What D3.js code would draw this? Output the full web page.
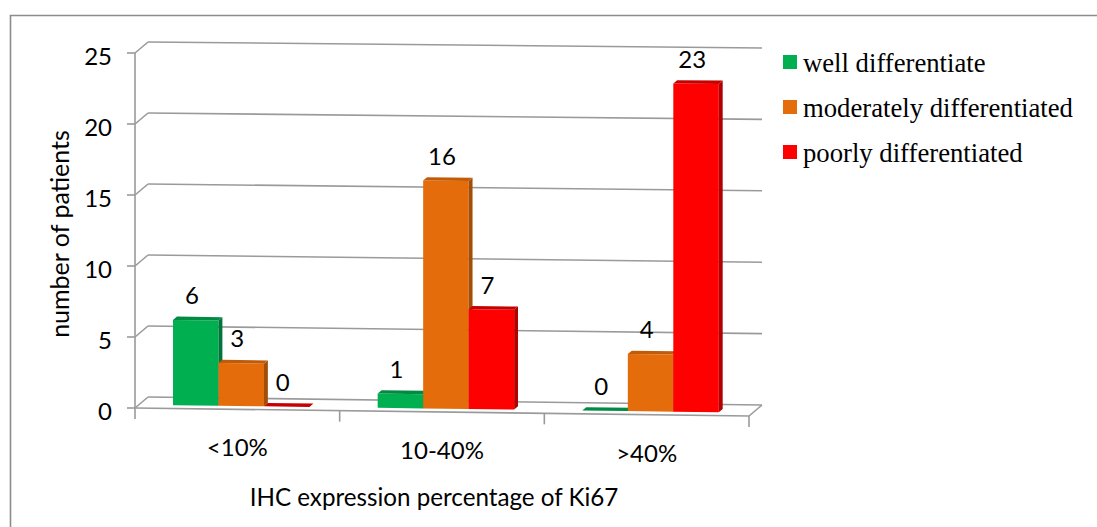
<!DOCTYPE html>
<html>
<head>
<meta charset="utf-8">
<script src="https://cdn.jsdelivr.net/npm/d3@7"></script>
<style>
  html, body { margin: 0; padding: 0; background: #ffffff; }
  svg { display: block; }
</style>
</head>
<body>
<svg id="chart" width="1097" height="527"></svg>
<script>
// Ki67 expression groups and patient counts per differentiation grade
const categories = ["<10%", "10-40%", ">40%"];
const seriesNames = ["well differentiate", "moderately differentiated", "poorly differentiated"];
const wellValues = [6, 1, 0];
const moderateValues = [3, 16, 4];
const poorValues = [0, 7, 23];
const yTicks = [0, 5, 10, 15, 20, 25];

const series = [
  { name: seriesNames[0], values: wellValues,     front: "#00b050", side: "#00753a", top: "#008a42" },
  { name: seriesNames[1], values: moderateValues, front: "#e46c0a", side: "#a34e07", top: "#c25b08" },
  { name: seriesNames[2], values: poorValues,     front: "#ff0000", side: "#b00000", top: "#c80000" }
];

const svg = d3.select("#chart");
const sansFont = "Lato, 'Open Sans', sans-serif";
const serifFont = "'Liberation Serif', 'Times New Roman', serif";

// Front plane of the 3-D plot box
const left = 135, right = 749;
const x = d3.scaleBand().domain(categories).range([left, right]);
const y = d3.scaleLinear().domain([0, 25]).range([408, 53]);

// Depth direction (front -> back wall) and a slight downward tilt to the right
const DX = 13, DY = -11;
function skew(px, v) { return (px - left) / (right - left) * (8 - 2 * v / 25); }
function P(px, v, d) { return [px + d * DX, y(v) + skew(px, v) + d * DY]; }
const line = d3.line();

// Outer chart frame (top and left edges)
svg.append("path").attr("d", "M10.5,527 L10.5,15.5 L1097,15.5")
  .attr("fill", "none").attr("stroke", "#8c8c8c").attr("stroke-width", 1.6);

const grid = svg.append("g").attr("fill", "none").attr("stroke", "#9a9a9a").attr("stroke-width", 1.6);

// Back wall gridlines and side wall diagonals
yTicks.forEach(v => {
  grid.append("path").attr("d", line([P(left, v, 1), P(right, v, 1)]));
  grid.append("path").attr("d", line([P(left, v, 0), P(left, v, 1)]));
  grid.append("path").attr("d", line([[left - 8, y(v)], P(left, v, 0)]));
});

// Front vertical axis
grid.append("path").attr("d", line([P(left, 0, 0), P(left, 25, 0)]));
// Floor front edge and right edge
grid.append("path").attr("d", line([P(left, 0, 0), P(right, 0, 0)]));
grid.append("path").attr("d", line([P(right, 0, 0), P(right, 0, 1)]));
// Category tick marks
const bounds = categories.map(c => x(c)).concat([right]);
bounds.forEach(b => {
  const p = P(b, 0, 0);
  grid.append("path").attr("d", line([p, [p[0], p[1] + 11]]));
});

// Y tick labels
svg.append("g").selectAll("text").data(yTicks).join("text")
  .attr("x", 112).attr("y", d => y(d) + 2)
  .attr("text-anchor", "end").attr("dominant-baseline", "central")
  .attr("font-family", sansFont).attr("font-size", 24).attr("fill", "#000")
  .text(d => d);

// Bars: each drawn as a thin box (front, right side, top)
const nS = series.length;
const bw = x.bandwidth() / (nS + 1.5);
const dA = 0.3, dB = 0.6;
const bars = svg.append("g");
const labels = [];
categories.forEach((c, i) => {
  const start = x(c) + (x.bandwidth() - nS * bw) / 2;
  series.forEach((s, j) => {
    const v = s.values[i];
    const xl = start + j * bw, xr = xl + bw;
    const g = bars.append("g");
    if (v > 0) {
      g.append("path").attr("d", line([P(xl, 0, dA), P(xr, 0, dA), P(xr, v, dA), P(xl, v, dA)]) + "Z")
        .attr("fill", s.front);
      g.append("path").attr("d", line([P(xr, 0, dA), P(xr, 0, dB), P(xr, v, dB), P(xr, v, dA)]) + "Z")
        .attr("fill", s.side);
    }
    g.append("path").attr("d", line([P(xl, v, dA), P(xr, v, dA), P(xr, v, dB), P(xl, v, dB)]) + "Z")
      .attr("fill", s.top);
    const top = P((xl + xr) / 2, v, dA);
    labels.push({ x: top[0] - dA * DX, y: top[1], text: v });
  });
});

// Value labels above each bar
svg.append("g").selectAll("text").data(labels).join("text")
  .attr("x", d => d.x).attr("y", d => d.y - 16)
  .attr("text-anchor", "middle")
  .attr("font-family", sansFont).attr("font-size", 24).attr("fill", "#000")
  .text(d => d.text);

// Category labels
svg.append("g").selectAll("text").data(categories).join("text")
  .attr("x", d => x(d) + x.bandwidth() / 2)
  .attr("y", d => P(x(d) + x.bandwidth() / 2, 0, 0)[1] + 47)
  .attr("text-anchor", "middle")
  .attr("font-family", sansFont).attr("font-size", 24).attr("fill", "#000")
  .text(d => d);

// Axis titles
svg.append("text").attr("x", 434).attr("y", 506)
  .attr("text-anchor", "middle")
  .attr("font-family", sansFont).attr("font-size", 24.2).attr("fill", "#000")
  .text("IHC expression percentage of Ki67");
svg.append("text").attr("transform", "translate(69,234) rotate(-90)")
  .attr("text-anchor", "middle")
  .attr("font-family", sansFont).attr("font-size", 25).attr("fill", "#000")
  .text("number of patients");

// Legend
const legend = svg.append("g");
series.forEach((s, i) => {
  const yy = 55 + i * 45;
  legend.append("rect").attr("x", 783).attr("y", yy).attr("width", 14).attr("height", 14).attr("fill", s.front);
  legend.append("text").attr("x", 803).attr("y", yy + 17)
    .attr("font-family", serifFont).attr("font-size", 26.7).attr("fill", "#000")
    .text(s.name);
});
</script>
</body>
</html>
